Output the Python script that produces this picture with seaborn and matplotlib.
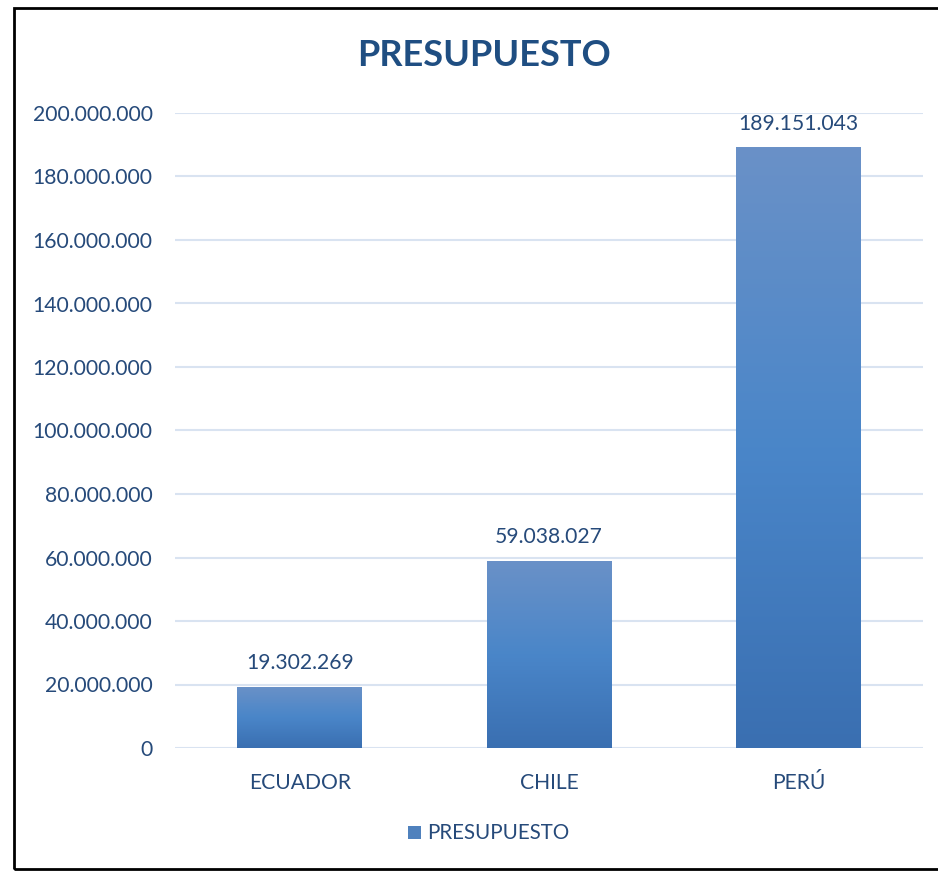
import numpy as np
import pandas as pd
import matplotlib
matplotlib.use("Agg")
import matplotlib.pyplot as plt
import seaborn as sns
from matplotlib.patches import Rectangle
from matplotlib.colors import LinearSegmentedColormap
from matplotlib.ticker import FuncFormatter

categories = ["ECUADOR", "CHILE", "PERÚ"]
values = [19302269, 59038027, 189151043]
labels = ["19.302.269", "59.038.027", "189.151.043"]
series_name = "PRESUPUESTO"
title = "PRESUPUESTO"

sns.set_theme(style="white")
plt.rcParams['font.family'] = ['Lato', 'DejaVu Sans']

txt = "#264A7A"
grid_c = "#D9E3F1"

fig = plt.figure(figsize=(9.38, 8.71), dpi=100)
ax = fig.add_axes([175/938, 1-748/871, (923-175)/938, (748-113)/871])

df = pd.DataFrame({"cat": categories, "val": values, "series": series_name})
sns.barplot(data=df, x="cat", y="val", hue="series", palette=["#4F81BD"],
            width=0.5, ax=ax, legend=False, zorder=3)

ax.set_ylim(0, 200_000_000)
ax.set_xlim(-0.5, 2.5)
ax.set_yticks(np.arange(0, 200_000_001, 20_000_000))
ax.yaxis.set_major_formatter(FuncFormatter(lambda v, p: f"{int(v):,}".replace(",", ".")))
ax.grid(axis="y", color=grid_c, linewidth=1.5, zorder=0)
ax.set_axisbelow(True)
for s in ax.spines.values():
    s.set_visible(False)
ax.tick_params(axis="y", length=0, pad=16, labelsize=15.2, labelcolor=txt)
ax.tick_params(axis="x", length=0, pad=18, labelsize=15.2, labelcolor=txt)
ax.set_xlabel("")
ax.set_ylabel("")

# gradient fill
cmap = LinearSegmentedColormap.from_list("g", ["#3A6FB1", "#4A86C9", "#6A91C7"])
grad = np.linspace(0, 1, 256).reshape(-1, 1)
for p in list(ax.patches):
    x0, y0 = p.get_x(), p.get_y()
    w, h = p.get_width(), p.get_height()
    im = ax.imshow(grad, cmap=cmap, aspect="auto", origin="lower",
                   extent=[x0, x0 + w, y0, y0 + h], zorder=3.5)
    im.set_clip_path(p)
    p.set_edgecolor("none")

ax.set_xlim(-0.5, 2.5)
ax.set_ylim(0, 200_000_000)

for i, (v, lab) in enumerate(zip(values, labels)):
    ax.annotate(lab, (i, v), xytext=(0, 10), textcoords="offset points",
                ha="center", va="bottom", fontsize=15.2, color=txt)

fig.text(484/938, 1-56/871, title, ha="center", va="center",
         fontsize=26, fontweight="bold", color="#1F4E82")

# legend
fig.patches.append(Rectangle((408/938, 1-839/871), 13/938, 13/871,
                             transform=fig.transFigure, facecolor="#4F81BD",
                             edgecolor="none"))
fig.text(427/938, 1-833/871, series_name, ha="left", va="center",
         fontsize=14.8, color=txt)

# frame
fig.patches.append(Rectangle((14/938, 1-869/871), (945-14)/938, (869-8)/871,
                             transform=fig.transFigure, facecolor="none",
                             edgecolor="black", linewidth=2))

fig.savefig("out.png", dpi=100)
